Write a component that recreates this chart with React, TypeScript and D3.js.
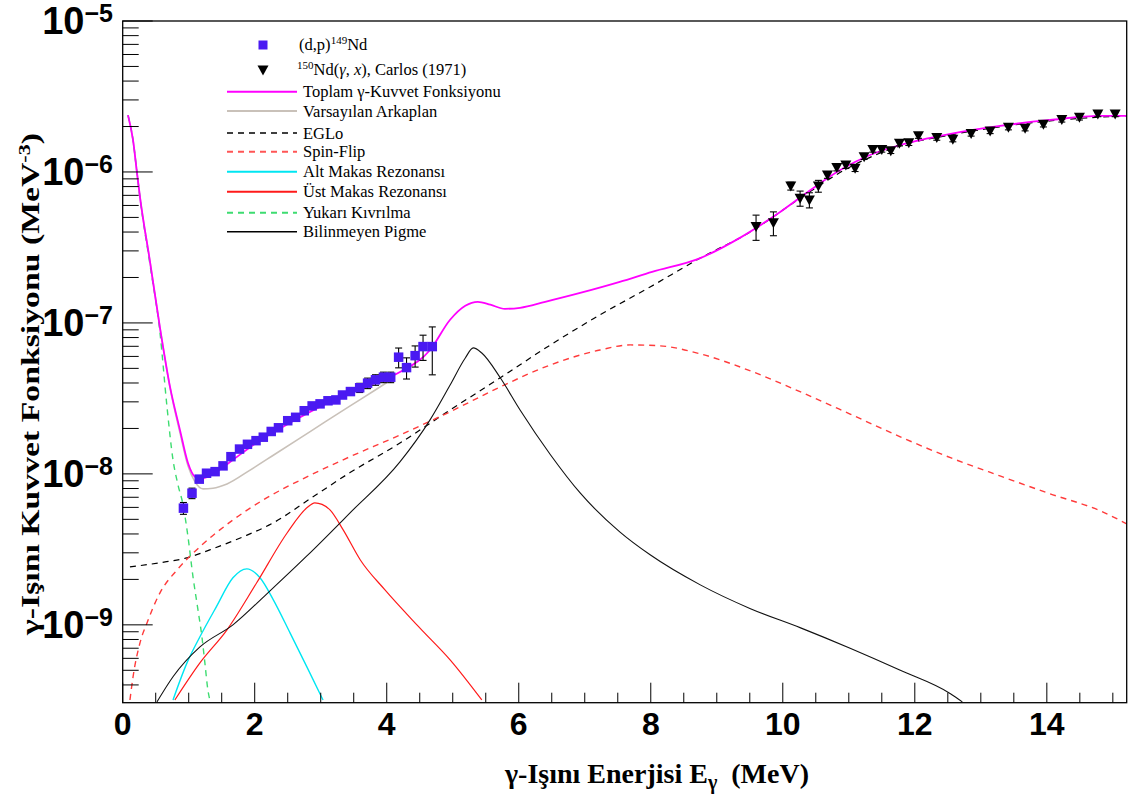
import React from "react";
import * as d3 from "d3";

// ---- (d,p) 149Nd data ----
const dpE = [0.92, 1.05, 1.16, 1.27, 1.4, 1.52, 1.64, 1.77, 1.89, 2.02, 2.13, 2.25, 2.36, 2.5, 2.62, 2.75, 2.87, 2.99, 3.11, 3.23, 3.33, 3.45, 3.59, 3.71, 3.83, 3.95, 4.06, 4.18, 4.3, 4.43, 4.55, 4.69];
const dpF = [5.93e-9, 7.45e-9, 9.23e-9, 1.01e-8, 1.035e-8, 1.13e-8, 1.3e-8, 1.46e-8, 1.57e-8, 1.66e-8, 1.75e-8, 1.91e-8, 2.02e-8, 2.25e-8, 2.37e-8, 2.62e-8, 2.82e-8, 2.91e-8, 3.05e-8, 3.09e-8, 3.33e-8, 3.51e-8, 3.72e-8, 3.99e-8, 4.2e-8, 4.37e-8, 4.37e-8, 5.93e-8, 5.06e-8, 6.07e-8, 6.97e-8, 6.97e-8];
const dpErr = [0.09, 0.08, 0.05, 0.03, 0.03, 0.03, 0.03, 0.03, 0.03, 0.03, 0.04, 0.04, 0.04, 0.04, 0.04, 0.04, 0.04, 0.04, 0.04, 0.04, 0.05, 0.05, 0.07, 0.08, 0.08, 0.08, 0.08, 0.15, 0.16, 0.16, 0.19, 0.35];

// ---- 150Nd(g,x) Carlos (1971) ----
const carE = [9.595, 9.858, 10.121, 10.262, 10.403, 10.539, 10.676, 10.818, 10.955, 11.095, 11.232, 11.364, 11.5, 11.636, 11.767, 11.909, 12.055, 12.333, 12.576, 12.853, 13.141, 13.418, 13.671, 13.948, 14.227, 14.494, 14.773, 15.035];
const carF = [4.35e-7, 4.61e-7, 8.07e-7, 6.7e-7, 6.53e-7, 8.07e-7, 9.55e-7, 1.07e-6, 1.11e-6, 1.06e-6, 1.26e-6, 1.41e-6, 1.41e-6, 1.38e-6, 1.55e-6, 1.56e-6, 1.74e-6, 1.69e-6, 1.65e-6, 1.8e-6, 1.87e-6, 1.98e-6, 1.95e-6, 2.07e-6, 2.23e-6, 2.3e-6, 2.42e-6, 2.42e-6];
const carErr = [0.19, 0.18, 0.06, 0.115, 0.115, 0.09, 0.05, 0.05, 0.05, 0.05, 0.04, 0.04, 0.04, 0.04, 0.04, 0.04, 0.04, 0.04, 0.04, 0.04, 0.04, 0.04, 0.04, 0.04, 0.04, 0.04, 0.04, 0.04];

// ---- model curves ----
const totE = [0.08, 0.156, 0.217, 0.262, 0.414, 0.565, 0.717, 0.868, 0.989, 1.095, 1.17, 1.32, 1.626, 2.0, 2.535, 3.14, 3.75, 4.2, 4.656, 4.96, 5.19, 5.38, 5.57, 5.79, 6.02, 6.4, 6.93, 7.53, 8.02, 8.75, 9.35, 9.96, 10.42, 10.87, 11.33, 11.78, 12.54, 13.29, 14.05, 14.81, 15.21];
const totF = [2.38e-6, 1.63e-6, 9.84e-7, 6.82e-7, 2.54e-7, 9.27e-8, 3.77e-8, 1.95e-8, 1.18e-8, 9.55e-9, 9.27e-9, 9.7e-9, 1.2e-8, 1.58e-8, 2.18e-8, 3.0e-8, 3.88e-8, 4.73e-8, 6.62e-8, 1.05e-7, 1.3e-7, 1.38e-7, 1.32e-7, 1.24e-7, 1.26e-7, 1.38e-7, 1.58e-7, 1.87e-7, 2.18e-7, 2.69e-7, 3.66e-7, 5.43e-7, 7.6e-7, 1.03e-6, 1.3e-6, 1.51e-6, 1.79e-6, 2.02e-6, 2.21e-6, 2.35e-6, 2.35e-6];

const bgE = [0.08, 0.156, 0.217, 0.262, 0.414, 0.565, 0.717, 0.868, 0.989, 1.095, 1.217, 1.368, 1.58, 1.93, 2.305, 2.68, 3.06, 3.44, 3.82, 4.12];
const bgF = [2.38e-6, 1.63e-6, 9.84e-7, 6.82e-7, 2.54e-7, 9.27e-8, 3.72e-8, 1.87e-8, 1.13e-8, 8.85e-9, 7.96e-9, 8.04e-9, 8.58e-9, 1.06e-8, 1.35e-8, 1.72e-8, 2.2e-8, 2.81e-8, 3.58e-8, 4.35e-8];

const egloE = [0.11, 0.565, 0.974, 1.32, 1.823, 2.278, 2.884, 3.444, 4.2, 4.96, 5.72, 6.48, 7.23, 7.99, 8.75, 9.51, 10.27, 11.02, 11.78, 12.54, 13.29, 14.05, 14.81, 15.21];
const egloF = [2.42e-9, 2.58e-9, 2.78e-9, 3.14e-9, 3.83e-9, 4.73e-9, 7.05e-9, 1.02e-8, 1.6e-8, 2.65e-8, 4.33e-8, 7.15e-8, 1.13e-7, 1.73e-7, 2.69e-7, 4.01e-7, 6.73e-7, 1.08e-6, 1.49e-6, 1.76e-6, 1.99e-6, 2.18e-6, 2.31e-6, 2.35e-6];

const sfE = [0.11, 0.157, 0.262, 0.368, 0.565, 0.823, 1.17, 1.67, 2.18, 2.79, 3.34, 4.2, 4.96, 5.72, 6.48, 7.23, 7.69, 8.14, 8.75, 9.51, 10.27, 11.02, 11.78, 12.54, 13.29, 14.05, 14.81, 15.21];
const sfF = [3.18e-10, 4.53e-10, 7.6e-10, 1.03e-9, 1.63e-9, 2.31e-9, 3.29e-9, 4.95e-9, 6.93e-9, 9.55e-9, 1.24e-8, 1.81e-8, 2.58e-8, 3.77e-8, 5.27e-8, 6.62e-8, 7.15e-8, 7.05e-8, 6.24e-8, 4.81e-8, 3.49e-8, 2.49e-8, 1.76e-8, 1.28e-8, 9.7e-9, 7.38e-9, 5.69e-9, 4.67e-9];

const lsrE = [0.762, 0.974, 1.17, 1.42, 1.67, 1.88, 2.08, 2.28, 2.535, 2.79, 3.035];
const lsrF = [3.18e-10, 5.6e-10, 8.34e-10, 1.32e-9, 2.05e-9, 2.35e-9, 2.05e-9, 1.47e-9, 8.85e-10, 5.27e-10, 3.18e-10];

const usrE = [0.79, 1.17, 1.58, 2.03, 2.49, 2.79, 2.91, 3.02, 3.14, 3.34, 3.6, 3.97, 4.5, 4.96, 5.44];
const usrF = [3.18e-10, 5.6e-10, 9.27e-10, 1.9e-9, 4.06e-9, 5.96e-9, 6.43e-9, 6.28e-9, 5.78e-9, 4.26e-9, 2.69e-9, 1.71e-9, 9.55e-10, 5.86e-10, 3.18e-10];

const ubE = [0.08, 0.156, 0.217, 0.262, 0.414, 0.565, 0.671, 0.762, 0.838, 0.914, 0.989, 1.065, 1.14, 1.2, 1.245, 1.29, 1.32];
const ubF = [2.38e-6, 1.63e-6, 9.84e-7, 6.73e-7, 2.42e-7, 8.59e-8, 2.78e-8, 1.24e-8, 8.45e-9, 6.24e-9, 3.83e-9, 2.08e-9, 1.26e-9, 8.34e-10, 5.6e-10, 3.72e-10, 3.18e-10];

const pygE = [0.52, 0.762, 1.17, 1.67, 2.18, 2.79, 3.444, 4.2, 4.656, 4.96, 5.19, 5.31, 5.44, 5.72, 6.02, 6.48, 6.93, 7.53, 7.99, 8.75, 9.51, 10.27, 11.02, 11.78, 12.54, 12.72];
const pygF = [3.09e-10, 4.53e-10, 7.14e-10, 1.0e-9, 1.6e-9, 2.86e-9, 5.52e-9, 1.2e-8, 2.28e-8, 3.88e-8, 5.86e-8, 6.83e-8, 6.32e-8, 4.33e-8, 2.65e-8, 1.34e-8, 7.48e-9, 4.13e-9, 2.91e-9, 1.84e-9, 1.28e-9, 9.55e-10, 7.0e-10, 5.0e-10, 3.5e-10, 3.09e-10];

// ---- axes ----
const xTickLabels = [0, 2, 4, 6, 8, 10, 12, 14];
const yDecades = [-9, -8, -7, -6, -5];

const X0 = 122.7, X1 = 1126.7, Y0 = 702.7, Y1 = 21;

const SERIF = "'Liberation Serif', 'Times New Roman', serif";
const SANS = "'Liberation Sans', Arial, Helvetica, sans-serif";

export default function App() {
  const x = d3.scaleLinear().domain([0, 15.21]).range([X0, X1]);
  const y = d3.scaleLog().domain([3.05e-10, 1e-5]).range([Y0, Y1]);
  const line = d3.line<[number, number]>().curve(d3.curveMonotoneX);
  const path = (E: number[], F: number[]) => line(E.map((e, i) => [x(e), y(F[i])] as [number, number])) || "";

  const xMinor = d3.range(0, 15.01, 0.5);
  const yMinor: number[] = [];
  for (let k = -10; k <= -6; k++) for (let m = 2; m <= 9; m++) {
    const v = m * Math.pow(10, k);
    if (v >= 3.05e-10 && v <= 1e-5) yMinor.push(v);
  }

  const curves = [
    { E: bgE, F: bgF, color: "#c9c1b9", w: 1.6, dash: undefined },
    { E: egloE, F: egloF, color: "#000", w: 1.2, dash: "6,5" },
    { E: sfE, F: sfF, color: "#ff3b3b", w: 1.4, dash: "6,5" },
    { E: lsrE, F: lsrF, color: "#00e6f2", w: 1.4, dash: undefined },
    { E: usrE, F: usrF, color: "#ff1a1a", w: 1.2, dash: undefined },
    { E: ubE, F: ubF, color: "#3ddc70", w: 1.4, dash: "6,5" },
    { E: pygE, F: pygF, color: "#111", w: 1.1, dash: undefined },
    { E: totE, F: totF, color: "#ff00ff", w: 1.8, dash: undefined },
  ];

  const legendRows = [
    { y: 91.7, color: "#ff00ff", dash: undefined, w: 2, label: "Toplam γ-Kuvvet Fonksiyonu" },
    { y: 111, color: "#c9c1b9", dash: undefined, w: 2, label: "Varsayılan Arkaplan" },
    { y: 133, color: "#000", dash: "6,5", w: 1.4, label: "EGLo" },
    { y: 151.7, color: "#ff5555", dash: "6,5", w: 2, label: "Spin-Flip" },
    { y: 171.7, color: "#00e6f2", dash: undefined, w: 2, label: "Alt Makas Rezonansı" },
    { y: 191.7, color: "#ff1a1a", dash: undefined, w: 2, label: "Üst Makas Rezonansı" },
    { y: 212.7, color: "#3ddc70", dash: "6,5", w: 2, label: "Yukarı Kıvrılma" },
    { y: 231.7, color: "#000", dash: undefined, w: 1.6, label: "Bilinmeyen Pigme" },
  ];

  const tri = (cx: number, cy: number) => `M${cx - 5.5},${cy - 4.5}L${cx + 5.5},${cy - 4.5}L${cx},${cy + 5.5}Z`;

  return (
    <svg width={1132} height={798} style={{ position: "absolute", left: 0, top: 0, background: "#fff" }}>
      <defs>
        <clipPath id="plot">
          <rect x={X0} y={Y1} width={X1 - X0} height={Y0 - Y1} />
        </clipPath>
      </defs>
      <rect x={0} y={0} width={1132} height={798} fill="#fff" />

      {/* curves */}
      <g clipPath="url(#plot)" fill="none">
        {curves.map((c, i) => (
          <path key={i} d={path(c.E, c.F)} stroke={c.color} strokeWidth={c.w} strokeDasharray={c.dash} />
        ))}
      </g>

      {/* d,p data */}
      <g>
        {dpE.map((e, i) => {
          const cx = x(e), f = dpF[i], d = dpErr[i] * f;
          const yt = y(f + d), yb = y(f - d);
          return (
            <g key={i} stroke="#000" strokeWidth={1.1}>
              <line x1={cx} x2={cx} y1={yt} y2={yb} />
              <line x1={cx - 3.5} x2={cx + 3.5} y1={yt} y2={yt} />
              <line x1={cx - 3.5} x2={cx + 3.5} y1={yb} y2={yb} />
            </g>
          );
        })}
        {dpE.map((e, i) => (
          <rect key={i} x={x(e) - 4.75} y={y(dpF[i]) - 4.75} width={9.5} height={9.5} fill="#4a1af2" />
        ))}
      </g>

      {/* Carlos data */}
      <g>
        {carE.map((e, i) => {
          const cx = x(e), f = carF[i], d = carErr[i] * f;
          const yt = y(f + d), yb = y(f - d);
          return (
            <g key={i} stroke="#000" strokeWidth={1.1}>
              <line x1={cx} x2={cx} y1={yt} y2={yb} />
              <line x1={cx - 3.5} x2={cx + 3.5} y1={yt} y2={yt} />
              <line x1={cx - 3.5} x2={cx + 3.5} y1={yb} y2={yb} />
            </g>
          );
        })}
        {carE.map((e, i) => (
          <path key={i} d={tri(x(e), y(carF[i]))} fill="#000" />
        ))}
      </g>

      {/* frame */}
      <rect x={X0} y={Y1} width={X1 - X0} height={Y0 - Y1} fill="none" stroke="#000" strokeWidth={1.3} />

      {/* x ticks */}
      <g stroke="#000" strokeWidth={1}>
        {xMinor.map((t, i) => {
          const major = Math.abs(t / 2 - Math.round(t / 2)) < 1e-6;
          return <line key={i} x1={x(t)} x2={x(t)} y1={Y0} y2={Y0 - (major ? 20 : 10)} />;
        })}
      </g>
      <g fontFamily={SANS} fontWeight="bold" fontSize={32} textAnchor="middle">
        {xTickLabels.map((t) => (
          <text key={t} x={x(t)} y={735}>{t}</text>
        ))}
      </g>

      {/* y ticks */}
      <g stroke="#000" strokeWidth={1}>
        {yDecades.map((k) => (
          <line key={k} x1={X0} x2={X0 + 30} y1={y(Math.pow(10, k))} y2={y(Math.pow(10, k))} />
        ))}
        {yMinor.map((v, i) => (
          <line key={i} x1={X0} x2={X0 + 16} y1={y(v)} y2={y(v)} />
        ))}
      </g>
      <g fontFamily={SANS} fontWeight="bold">
        {yDecades.map((k) => {
          const yy = y(Math.pow(10, k));
          return (
            <text key={k} x={113} y={yy + 13} textAnchor="end" fontSize={38}>
              10<tspan fontSize={25} dy={-12}>{"\u2212" + Math.abs(k)}</tspan>
            </text>
          );
        })}
      </g>

      {/* axis titles */}
      <text x={505} y={783} fontFamily={SERIF} fontWeight="bold" fontSize={28}>
        γ-Işını Enerjisi E<tspan fontSize={20} dy={6}>γ</tspan><tspan dy={-6}>{"\u00a0 (MeV)"}</tspan>
      </text>
      <text transform="translate(39,635) rotate(-90)" fontFamily={SERIF} fontWeight="bold" fontSize={26} textLength={502} lengthAdjust="spacingAndGlyphs">
        γ-Işını Kuvvet Fonksiyonu (MeV<tspan fontSize={17} dy={-9}>-3</tspan><tspan dy={9}>)</tspan>
      </text>

      {/* legend */}
      <g fontFamily={SERIF} fontSize={16.5}>
        <rect x={258.5} y={40.5} width={9} height={9} fill="#4a1af2" />
        <text x={299} y={50}>(d,p)<tspan fontSize={11} dy={-6}>149</tspan><tspan dy={6}>Nd</tspan></text>
        <path d={tri(263, 70)} fill="#000" />
        <text x={297} y={75}><tspan fontSize={11} dy={-6}>150</tspan><tspan dy={6}>Nd(</tspan><tspan fontStyle="italic">γ</tspan>, <tspan fontStyle="italic">x</tspan>), Carlos (1971)</text>
        {legendRows.map((r, i) => (
          <g key={i}>
            <line x1={227} x2={297} y1={r.y} y2={r.y} stroke={r.color} strokeWidth={r.w} strokeDasharray={r.dash} />
            <text x={303} y={r.y + 5.5}>{r.label}</text>
          </g>
        ))}
      </g>
    </svg>
  );
}
